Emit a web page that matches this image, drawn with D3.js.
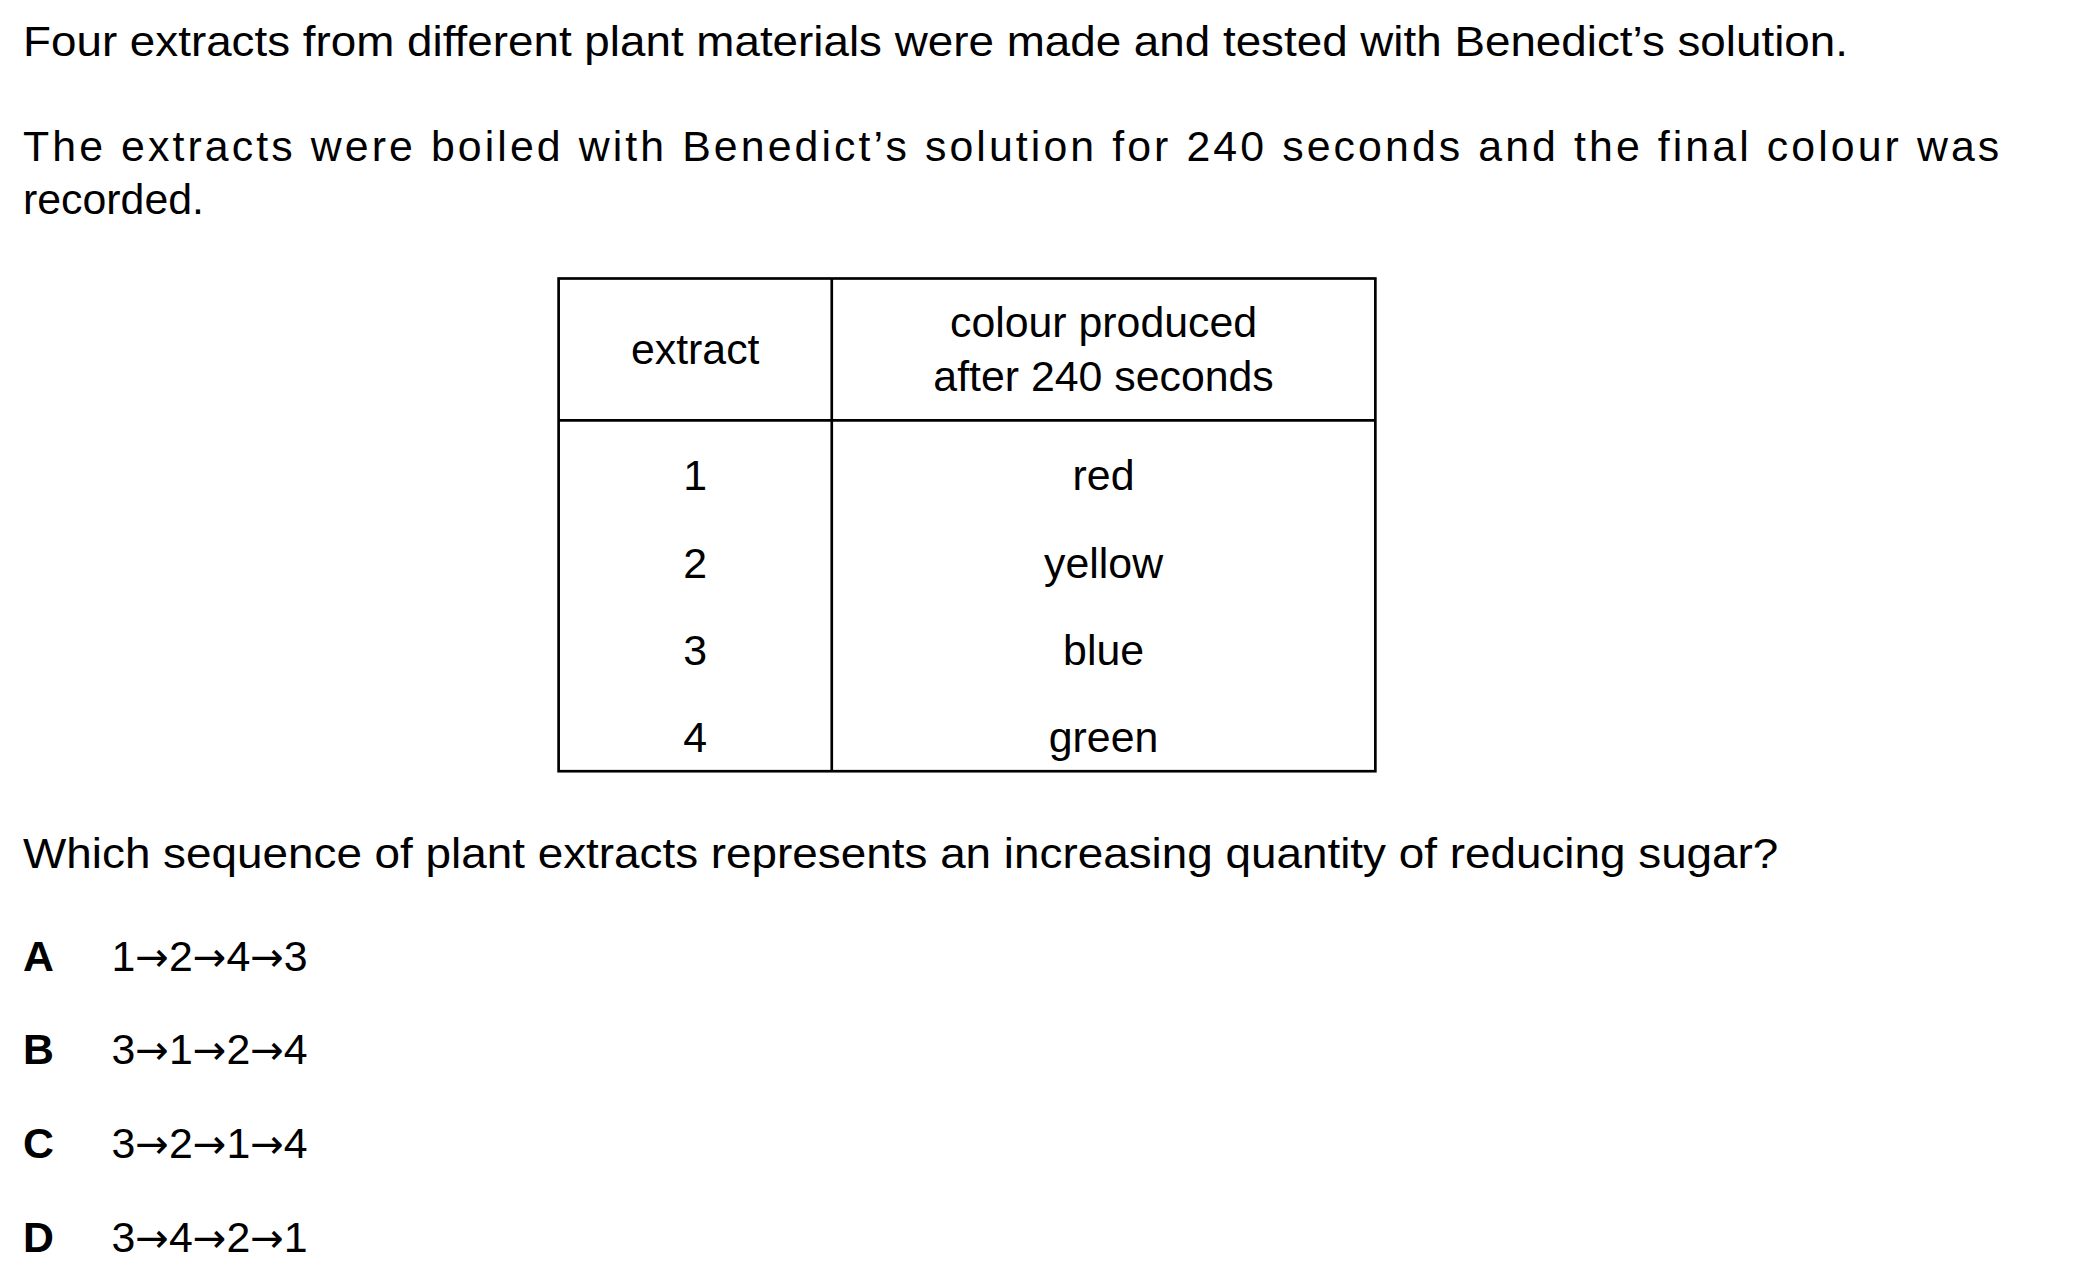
<!DOCTYPE html>
<html>
<head>
<meta charset="utf-8">
<script src="https://cdn.jsdelivr.net/npm/d3@7"></script>
<style>
  body { margin: 0; background: #fff; }
  text { font-family: "Liberation Sans", Arial, sans-serif; fill: #000; }
</style>
</head>
<body>
<svg id="chart"></svg>
<script>
var extracts = ["1", "2", "3", "4"];
var colours = ["red", "yellow", "blue", "green"];
var optionLetters = ["A", "B", "C", "D"];
var optionSequences = [
  ["1", "2", "4", "3"],
  ["3", "1", "2", "4"],
  ["3", "2", "1", "4"],
  ["3", "4", "2", "1"]
];

var fontSize = 32;

var svg = d3
  .select("#chart")
  .attr("width", 2100)
  .attr("height", 1280)
  .attr("viewBox", "0 0 1568 956");

svg.append("rect").attr("width", 1568).attr("height", 956).attr("fill", "white");

svg
  .append("text")
  .attr("x", 17)
  .attr("y", 42)
  .attr("textLength", 1363)
  .attr("lengthAdjust", "spacingAndGlyphs")
  .style("font-size", fontSize + "px")
  .text("Four extracts from different plant materials were made and tested with Benedict\u2019s solution.");

svg
  .append("text")
  .attr("x", 17)
  .attr("y", 120)
  .attr("textLength", 1476)
  .attr("lengthAdjust", "spacing")
  .style("font-size", fontSize + "px")
  .text("The extracts were boiled with Benedict\u2019s solution for 240 seconds and the final colour was");

svg
  .append("text")
  .attr("x", 17)
  .attr("y", 160)
  .style("font-size", fontSize + "px")
  .text("recorded.");

// table
var tLeft = 417, tMid = 621, tRight = 1027;
var tTop = 208, tHead = 314, tBottom = 576;

var table = svg.append("g");
table
  .append("rect")
  .attr("x", tLeft)
  .attr("y", tTop)
  .attr("width", tRight - tLeft)
  .attr("height", tBottom - tTop)
  .attr("fill", "none")
  .attr("stroke", "black")
  .attr("stroke-width", 2);
table.append("line").attr("x1", tMid).attr("x2", tMid).attr("y1", tTop).attr("y2", tBottom)
  .attr("stroke", "black").attr("stroke-width", 2);
table.append("line").attr("x1", tLeft).attr("x2", tRight).attr("y1", tHead).attr("y2", tHead)
  .attr("stroke", "black").attr("stroke-width", 2);

var col1 = (tLeft + tMid) / 2, col2 = (tMid + tRight) / 2;

table.append("text").attr("x", col1).attr("y", 272).attr("text-anchor", "middle")
  .style("font-size", fontSize + "px").text("extract");
table.append("text").attr("x", col2).attr("y", 252).attr("text-anchor", "middle")
  .style("font-size", fontSize + "px").text("colour produced");
table.append("text").attr("x", col2).attr("y", 292).attr("text-anchor", "middle")
  .style("font-size", fontSize + "px").text("after 240 seconds");

var rowY = d3.scalePoint().domain(extracts).range([366, 562]);

table
  .selectAll(".ext")
  .data(extracts)
  .enter()
  .append("text")
  .attr("class", "ext")
  .attr("x", col1)
  .attr("y", function (d) { return rowY(d); })
  .attr("text-anchor", "middle")
  .style("font-size", fontSize + "px")
  .text(function (d) { return d; });

table
  .selectAll(".col")
  .data(colours)
  .enter()
  .append("text")
  .attr("class", "col")
  .attr("x", col2)
  .attr("y", function (d, i) { return rowY(extracts[i]); })
  .attr("text-anchor", "middle")
  .style("font-size", fontSize + "px")
  .text(function (d) { return d; });

svg
  .append("text")
  .attr("x", 17)
  .attr("y", 648)
  .attr("textLength", 1311)
  .attr("lengthAdjust", "spacingAndGlyphs")
  .style("font-size", fontSize + "px")
  .text("Which sequence of plant extracts represents an increasing quantity of reducing sugar?");

// answer options
var optY = d3.scalePoint().domain(optionLetters).range([725, 935]);

var opts = svg
  .selectAll(".opt")
  .data(optionLetters)
  .enter()
  .append("g")
  .attr("class", "opt")
  .attr("transform", function (d) { return "translate(0," + optY(d) + ")"; });

opts
  .append("text")
  .attr("x", 17)
  .style("font-size", fontSize + "px")
  .style("font-weight", "bold")
  .text(function (d) { return d; });

opts.each(function (d, i) {
  var t = d3.select(this).append("text").attr("x", 83).style("font-size", fontSize + "px");
  optionSequences[i].forEach(function (n, j) {
    if (j > 0) {
      t.append("tspan")
        .style("font-family", "'DejaVu Sans', sans-serif")
        .style("font-size", "30px")
        .text("\u2192");
    }
    t.append("tspan").text(n);
  });
});
</script>
</body>
</html>
